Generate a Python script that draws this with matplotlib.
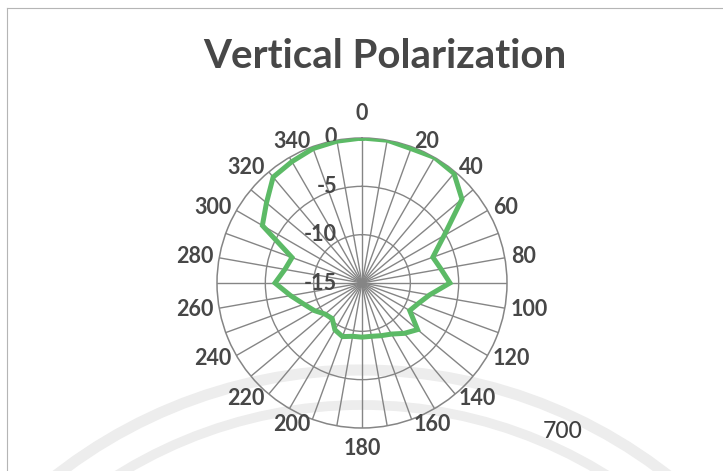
import matplotlib

matplotlib.use("Agg")
import matplotlib.pyplot as plt
import numpy as np
from matplotlib.patches import Arc

# pattern de antena, polarização vertical (dB, normalizado)
angles_deg = list(range(0, 360, 10))
gain_db = [
    0.0, 0.0, -0.2, 0.0, -0.2, -1.5, -5.2, -7.2, -6.7, -5.9,
    -7.9, -8.8, -9.3, -7.5, -8.2, -8.9, -9.2, -9.4, -9.4, -9.4,
    -9.1, -9.4, -10.2, -10.0, -9.3, -8.6, -7.5, -6.0, -6.9, -7.3,
    -3.1, -2.1, -0.7, -0.5, -0.2, -0.1,
]
label_angles = list(range(0, 360, 20))
r_ticks = [-15, -10, -5, 0]

W, H = 723, 471
TXT = "#474747"
GRID = "#858585"
LINE = "#5cba66"
FONT = "Lato"
PT = 72 / 100  # px -> pt

fig = plt.figure(figsize=(W / 100, H / 100), dpi=100)
fig.patch.set_facecolor("white")

# marca d'água clara ao fundo + moldura
bg = fig.add_axes([0, 0, 1, 1])
bg.set_xlim(0, W)
bg.set_ylim(H, 0)
bg.axis("off")
for rad, lw in [(497, 8), (462, 7)]:
    bg.add_patch(Arc((362, 867), 2 * rad, 2 * rad, theta1=180, theta2=360,
                     color="#ededed", lw=lw))
bg.plot([7, 7], [8, H], color="#b5b5b5", lw=0.8)
bg.plot([7, W], [8, 8], color="#b5b5b5", lw=0.8)
bg.text(563, 431, "700", fontsize=16.5, fontweight="medium", color="#3f3f3f",
        family=FONT, ha="center", va="center")
bg.text(385, 56, "Vertical Polarization", fontsize=29, fontweight="bold",
        color=TXT, family=FONT, ha="center", va="center")

cx, cy, R = 362, 283, 145
ax = fig.add_axes([(cx - R) / W, (H - cy - R) / H, 2 * R / W, 2 * R / H],
                  projection="polar")
ax.set_facecolor("none")
ax.set_theta_zero_location("N")
ax.set_theta_direction(-1)
ax.set_ylim(r_ticks[0], r_ticks[-1])

theta = np.deg2rad(angles_deg)
ax.set_xticks(theta)
ax.set_xticklabels([])
ax.set_yticks(r_ticks[1:-1])
ax.set_yticklabels([])
ax.grid(True, color=GRID, lw=1.0)
ax.spines["polar"].set_color(GRID)
ax.spines["polar"].set_linewidth(1.1)

lab_kw = dict(fontsize=15.5, fontweight="bold", color=TXT, family=FONT,
              annotation_clip=False)

# rótulos de ângulo, encostados no círculo externo
for a in label_angles:
    s, c = np.sin(np.deg2rad(a)), np.cos(np.deg2rad(a))
    if abs(s) < 0.01:
        gap = 14 if c > 0 else 10
        ha, va = "center", ("bottom" if c > 0 else "top")
    else:
        gap = 6
        ha, va = ("left" if s > 0 else "right"), "center"
    ax.annotate(str(a), xy=(np.deg2rad(a), r_ticks[-1]),
                xytext=(gap * s * PT, gap * c * PT), textcoords="offset points",
                ha=ha, va=va, **lab_kw)

for v in r_ticks:
    ax.annotate(str(v), xy=(0, v), xytext=(-18, 0), textcoords="offset points",
                ha="right", va="center", **lab_kw)

t_closed = np.append(theta, theta[0])
g_closed = gain_db + gain_db[:1]
ax.plot(t_closed, g_closed, color=LINE, lw=3.6, solid_joinstyle="miter", zorder=5)

fig.savefig("out.png", dpi=100)
